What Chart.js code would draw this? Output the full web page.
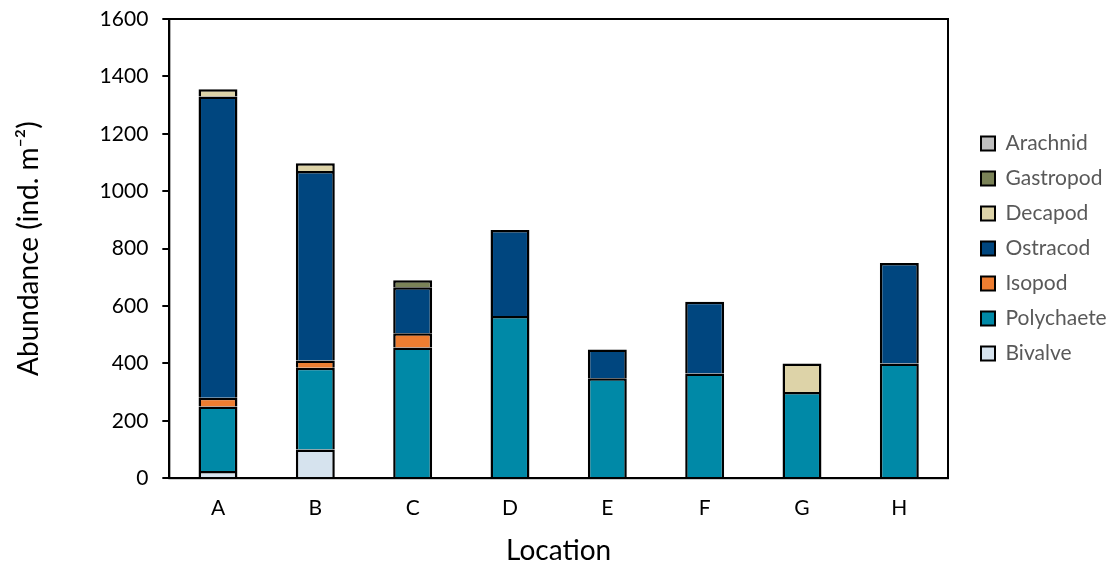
<!DOCTYPE html>
<html>
<head>
<meta charset="utf-8">
<script src="https://cdn.jsdelivr.net/npm/chart.js@4.4.1/dist/chart.umd.min.js"></script>
<style>
  body { margin: 0; background: #fff; }
  #wrap { width: 1119px; height: 563px; }
</style>
</head>
<body>
<div id="wrap"><canvas id="abundanceChart"></canvas></div>
<script>
// Locations along the x axis
const locations = ['A', 'B', 'C', 'D', 'E', 'F', 'G', 'H'];

// Abundance (ind. m-2) per taxon, stacked bottom to top
const bivalve    = [25, 100, 0, 0, 0, 0, 0, 0];
const polychaete = [225, 285, 455, 565, 348, 365, 300, 400];
const isopod     = [30, 25, 50, 0, 0, 0, 0, 0];
const ostracod   = [1050, 660, 160, 300, 100, 250, 0, 350];
const decapod    = [25, 27, 0, 0, 0, 0, 100, 0];
const gastropod  = [0, 0, 25, 0, 0, 0, 0, 0];
const arachnid   = [0, 0, 0, 0, 0, 0, 0, 0];

const yTicks = [0, 200, 400, 600, 800, 1000, 1200, 1400, 1600];

const FONT = 'Lato, "Noto Sans", sans-serif';

function series(label, data, color) {
  return {
    label: label,
    data: data,
    backgroundColor: color,
    borderColor: '#000',
    // no outline on empty segments
    borderWidth: c => (c.type === 'data' && !c.raw ? 0 : 2.5),
    borderSkipped: 'start',
    barPercentage: 0.4,
    categoryPercentage: 1.0
  };
}

// Draw a box round the plot area
const frame = {
  id: 'frame',
  afterDraw(chart) {
    const { ctx, chartArea: a } = chart;
    ctx.save();
    ctx.strokeStyle = '#000';
    ctx.lineWidth = 2;
    ctx.strokeRect(a.left, a.top, a.right - a.left, a.bottom - a.top);
    ctx.restore();
  }
};

// Fixed legend width so the plot ends where the reference does
const legendWidth = {
  id: 'legendWidth',
  beforeInit(chart) {
    const fit = chart.legend.fit;
    chart.legend.fit = function () {
      fit.call(this);
      this.width = 152;
    };
  }
};

const ctx = document.getElementById('abundanceChart').getContext('2d');
const abundanceChart = new Chart(ctx, {
  type: 'bar',
  data: {
    labels: locations,
    datasets: [
      series('Bivalve', bivalve, '#d6e3ee'),
      series('Polychaete', polychaete, '#0089a7'),
      series('Isopod', isopod, '#ed7d31'),
      series('Ostracod', ostracod, '#00467f'),
      series('Decapod', decapod, '#ddd3a8'),
      series('Gastropod', gastropod, '#7a8257'),
      series('Arachnid', arachnid, '#bfbfbf')
    ]
  },
  plugins: [frame, legendWidth],
  options: {
    responsive: true,
    maintainAspectRatio: false,
    animation: false,
    layout: { padding: { top: 0, right: 0, bottom: 0, left: 12 } },
    plugins: {
      tooltip: { enabled: false },
      legend: {
        position: 'right',
        fullSize: false,
        reverse: true,
        labels: {
          color: '#595959',
          font: { family: FONT, size: 21 },
          boxWidth: 14,
          boxHeight: 14,
          padding: 14,
          generateLabels: chart => Chart.defaults.plugins.legend.labels.generateLabels(chart)
            .map(item => Object.assign(item, { lineWidth: 2 }))
        }
      }
    },
    scales: {
      x: {
        stacked: true,
        grid: { display: false },
        border: { display: true, color: '#000', width: 2 },
        ticks: { color: '#000', font: { family: FONT, size: 21 }, padding: 9 },
        title: {
          display: true,
          text: 'Location',
          color: '#000',
          font: { family: FONT, size: 28 },
          padding: { top: 5, bottom: -5 }
        }
      },
      y: {
        stacked: true,
        min: 0,
        max: 1600,
        afterBuildTicks: axis => { axis.ticks = yTicks.map(v => ({ value: v })); },
        afterFit: axis => { axis.paddingTop = 19; },
        grid: {
          drawOnChartArea: false,
          drawTicks: true,
          tickLength: 7,
          color: '#000',
          lineWidth: 2
        },
        border: { display: true, color: '#000', width: 2 },
        ticks: {
          color: '#000',
          font: { family: FONT, size: 21 },
          padding: 14,
          callback: v => String(v)
        },
        title: {
          display: true,
          text: 'Abundance (ind. m\u207B\u00B2)',
          color: '#000',
          font: { family: FONT, size: 28 },
          padding: { top: 0, bottom: 40 }
        }
      },
      // empty spacer between the plot and the legend
      gap: {
        position: 'right',
        display: true,
        min: 0,
        max: 1,
        grid: { display: false },
        border: { display: false },
        ticks: { display: false },
        afterFit: s => { s.width = 19; }
      }
    }
  }
});
</script>
</body>
</html>
